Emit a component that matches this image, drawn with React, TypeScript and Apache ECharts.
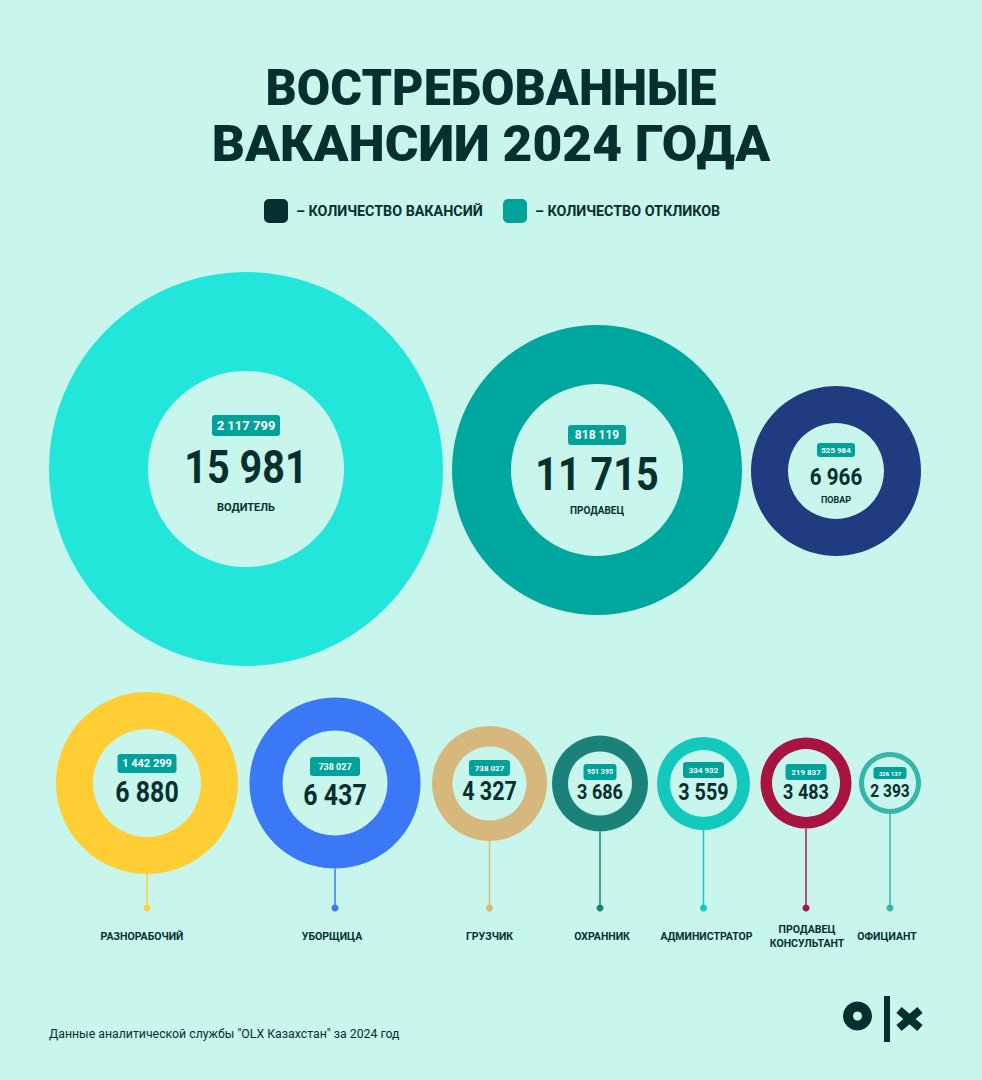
import React, { useEffect, useRef } from "react";
import * as echarts from "echarts";

// ---------- data ----------
const categories = [
  "Водитель",
  "Продавец",
  "Повар",
  "Разнорабочий",
  "Уборщица",
  "Грузчик",
  "Охранник",
  "Администратор",
  "Продавец консультант",
  "Официант",
];
const vacancies = [15981, 11715, 6966, 6880, 6437, 4327, 3686, 3559, 3483, 2393];
const responses = [2117799, 818119, 525984, 1442299, 738027, 738027, 951395, 334932, 219837, 326137];

const titleLines = ["ВОСТРЕБОВАННЫЕ", "ВАКАНСИИ 2024 ГОДА"];
const legendLabels = ["– КОЛИЧЕСТВО ВАКАНСИЙ", "– КОЛИЧЕСТВО ОТКЛИКОВ"];
const footnote = 'Данные аналитической службы "OLX Казахстан" за 2024 год';

// ---------- layout / styles ----------
const BG = "#C9F6EC";
const DARK = "#062F2F";
const BADGE = "#00A29A";

type L = {
  cx: number; cy: number; r0: number; r: number; color: string;
  bDy: number; bW: number; bH: number; bFont: number;
  nDy: number; nFont: number;
  inside: boolean; nameDy?: number; nameFont?: number; labelDx?: number;
};
const layout: L[] = [
  { cx: 246, cy: 469, r0: 98, r: 197, color: "#22E6DA", bDy: -43.5, bW: 68, bH: 21, bFont: 13, nDy: -2.5, nFont: 46, inside: true, nameDy: 38, nameFont: 11 },
  { cx: 597, cy: 470, r0: 86, r: 145, color: "#00A79E", bDy: -35, bW: 58, bH: 20, bFont: 12, nDy: 3.5, nFont: 46, inside: true, nameDy: 40, nameFont: 10 },
  { cx: 836, cy: 471, r0: 48, r: 85, color: "#213B81", bDy: -21, bW: 38, bH: 14, bFont: 8, nDy: 5.5, nFont: 24, inside: true, nameDy: 28.5, nameFont: 9 },
  { cx: 147, cy: 783, r0: 54, r: 91, color: "#FFCE34", bDy: -19.5, bW: 59, bH: 19, bFont: 11, nDy: 9.5, nFont: 29, inside: false, labelDx: -5 },
  { cx: 335, cy: 783, r0: 52.5, r: 85.5, color: "#3B78F6", bDy: -16.5, bW: 50, bH: 19, bFont: 9, nDy: 12.5, nFont: 29, inside: false, labelDx: -3 },
  { cx: 489.5, cy: 783.5, r0: 37, r: 57.5, color: "#D7B87C", bDy: -15.5, bW: 41, bH: 16, bFont: 8, nDy: 7.5, nFont: 25, inside: false },
  { cx: 600, cy: 783.5, r0: 32, r: 48, color: "#1B8279", bDy: -11.5, bW: 33, bH: 16, bFont: 7, nDy: 9, nFont: 21, inside: false, labelDx: 2 },
  { cx: 703.5, cy: 783.5, r0: 33.5, r: 46.5, color: "#12C9BE", bDy: -13.5, bW: 41, bH: 16, bFont: 8, nDy: 8, nFont: 23, inside: false, labelDx: 3 },
  { cx: 806, cy: 783, r0: 34, r: 45.5, color: "#A9133F", bDy: -11, bW: 41, bH: 16, bFont: 8, nDy: 9.5, nFont: 21, inside: false, labelDx: 1 },
  { cx: 890, cy: 783, r0: 26, r: 31, color: "#36B5A9", bDy: -10, bW: 33, bH: 12, bFont: 6, nDy: 7.5, nFont: 18, inside: false, labelDx: -3 },
];
const DOT_Y = 908;
const NAME_Y = 936;
const FONT = "Roboto, 'Noto Sans', sans-serif";

const fmt = (n: number) => n.toString().replace(/\B(?=(\d{3})+(?!\d))/g, " ");
const nameLabel = (s: string) =>
  s === "Продавец консультант" ? "ПРОДАВЕЦ\nКОНСУЛЬТАНТ" : s.toUpperCase();

export default function App() {
  const ref = useRef<HTMLDivElement>(null);
  useEffect(() => {
    if (!ref.current) return;
    const chart = echarts.init(ref.current, undefined, { renderer: "svg" });

    const series: any[] = categories.map((name, i) => {
      const l = layout[i];
      return {
        type: "pie",
        silent: true,
        animation: false,
        radius: [l.r0, l.r],
        center: [l.cx, l.cy],
        label: { show: false },
        labelLine: { show: false },
        emphasis: { disabled: true },
        itemStyle: { borderWidth: 0 },
        data: [{ name, value: vacancies[i], itemStyle: { color: l.color } }],
      };
    });

    const g: any[] = [];
    // title
    const titleScale = [0.97, 1.03];
    titleLines.forEach((t, k) => {
      g.push({
        type: "text",
        x: 491,
        y: 88 + k * 56,
        scaleX: titleScale[k],
        style: { text: t, fontFamily: FONT, fontWeight: 900, fontSize: 50, fill: DARK, align: "center", verticalAlign: "middle" },
      });
    });
    // legend
    const legendX = [264, 503];
    const legendCol = [DARK, BADGE];
    legendLabels.forEach((t, k) => {
      g.push({
        type: "rect",
        shape: { x: legendX[k], y: 199, width: 24, height: 24, r: 5 },
        style: { fill: legendCol[k] },
      });
      g.push({
        type: "text",
        x: legendX[k] + 32,
        y: 211,
        style: { text: t, fontFamily: FONT, fontWeight: "bold", fontSize: 14.3, fill: DARK, align: "left", verticalAlign: "middle" },
      });
    });

    categories.forEach((name, i) => {
      const l = layout[i];
      // badge
      g.push({
        type: "rect",
        shape: { x: l.cx - l.bW / 2, y: l.cy + l.bDy - l.bH / 2, width: l.bW, height: l.bH, r: 3 },
        style: { fill: BADGE },
      });
      g.push({
        type: "text",
        x: l.cx,
        y: l.cy + l.bDy,
        style: { text: fmt(responses[i]), fontFamily: FONT, fontWeight: "bold", fontSize: l.bFont, fill: "#FFFFFF", align: "center", verticalAlign: "middle" },
      });
      // number
      g.push({
        type: "text",
        x: l.cx,
        y: l.cy + l.nDy,
        scaleX: 0.86,
        style: { text: fmt(vacancies[i]), fontFamily: FONT, fontWeight: "bold", fontSize: l.nFont, fill: DARK, align: "center", verticalAlign: "middle" },
      });
      if (l.inside) {
        g.push({
          type: "text",
          x: l.cx,
          y: l.cy + (l.nameDy as number),
          style: { text: nameLabel(name), fontFamily: FONT, fontWeight: "bold", fontSize: l.nameFont, fill: DARK, align: "center", verticalAlign: "middle" },
        });
      } else {
        g.push({
          type: "line",
          shape: { x1: l.cx, y1: l.cy + l.r, x2: l.cx, y2: DOT_Y },
          style: { stroke: l.color, lineWidth: 1.5 },
        });
        g.push({
          type: "circle",
          shape: { cx: l.cx, cy: DOT_Y, r: 3.5 },
          style: { fill: l.color },
        });
        g.push({
          type: "text",
          x: l.cx + (l.labelDx || 0),
          y: NAME_Y,
          style: { text: nameLabel(name), fontFamily: FONT, fontWeight: "bold", fontSize: 10.5, lineHeight: 14, fill: DARK, align: "center", verticalAlign: "middle" },
        });
      }
    });

    // footnote
    g.push({
      type: "text",
      x: 49,
      y: 1034,
      style: { text: footnote, fontFamily: FONT, fontSize: 12.3, fill: DARK, align: "left", verticalAlign: "middle" },
    });
    // OLX logo
    g.push({ type: "ring", shape: { cx: 857.5, cy: 1016, r: 14.5, r0: 4.5 }, style: { fill: DARK } });
    g.push({ type: "rect", shape: { x: 884, y: 996, width: 6, height: 46 }, style: { fill: DARK } });
    g.push({ type: "line", shape: { x1: 899, y1: 1010, x2: 920, y2: 1028 }, style: { stroke: DARK, lineWidth: 8 } });
    g.push({ type: "line", shape: { x1: 920, y1: 1010, x2: 899, y2: 1028 }, style: { stroke: DARK, lineWidth: 8 } });

    chart.setOption({
      animation: false,
      backgroundColor: BG,
      series,
      graphic: { elements: g },
    });
    return () => chart.dispose();
  }, []);

  return (
    <div
      ref={ref}
      style={{ position: "absolute", left: 0, top: 0, width: 982, height: 1080 }}
    />
  );
}
